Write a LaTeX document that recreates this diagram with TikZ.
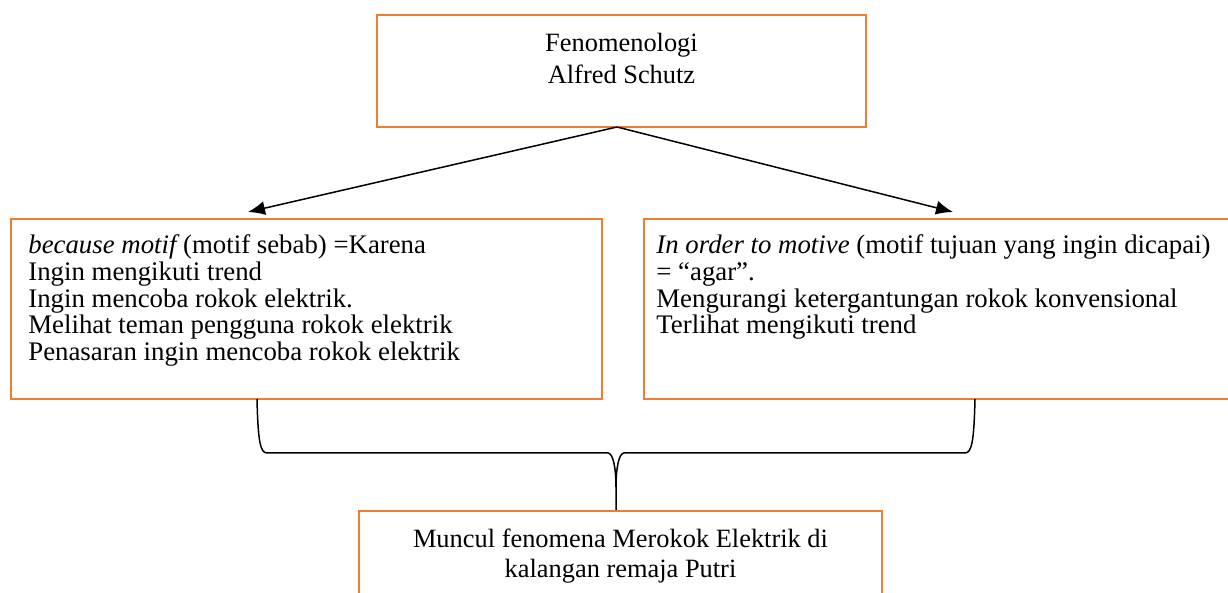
\documentclass[tikz,border=0pt]{standalone}
\usepackage{fontspec}
\setmainfont{Liberation Serif}
\usetikzlibrary{arrows.meta}
\definecolor{orng}{HTML}{ED7D31}
\begin{document}
\begin{tikzpicture}[x=0.5pt,y=-0.5pt,
  box/.style={draw=orng, line width=1pt, inner sep=0pt, rectangle},
  small/.style={font=\fontsize{13.4pt}{13.5pt}\selectfont, inner sep=0pt, anchor=base west},
  big/.style={font=\fontsize{13.2pt}{16pt}\selectfont, inner sep=0pt, anchor=base},
  conn/.style={line width=0.75pt, black},
  arr/.style={conn, -{Latex[length=8.5pt,width=7pt]}}]
\useasboundingbox (0,0) rectangle (1228,593);
\clip (0,0) rectangle (1228,593);
% boxes
\node[box, minimum width=244.5pt, minimum height=56pt] (top) at (621.5,71) {};
\node[box, minimum width=295.5pt, minimum height=90pt] (left) at (306.5,309) {};
\node[box, minimum width=298pt, minimum height=90pt] (right) at (942,309) {};
\node[box, minimum width=261.5pt, minimum height=54.5pt] (bot) at (620.5,565.5) {};
% texts
\node[big] (t1) at (621.5,52) {Fenomenologi};
\node[big] (t2) at (621.5,84) {Alfred Schutz};
\node[small] (l1) at (28,254) {{\itshape because motif} (motif sebab) =Karena};
\node[small] (l2) at (28,281) {Ingin mengikuti trend};
\node[small] (l3) at (28,307.5) {Ingin mencoba rokok elektrik.};
\node[small] (l4) at (28,334) {Melihat teman pengguna rokok elektrik};
\node[small] (l5) at (28,360.5) {Penasaran ingin mencoba rokok elektrik};
\node[small] (r1) at (656,254) {{\itshape In order to motive} (motif tujuan yang ingin dicapai)};
\node[small] (r2) at (656,281) {= “agar”.};
\node[small] (r3) at (656,307.5) {Mengurangi ketergantungan rokok konvensional};
\node[small] (r4) at (656,334) {Terlihat mengikuti trend};
\node[big] (b1) at (620.5,547) {Muncul fenomena Merokok Elektrik di};
\node[big] (b2) at (620.5,578) {kalangan remaja Putri};
% arrows
\coordinate (apex) at (617,127);
\coordinate (ltip) at (248,212);
\coordinate (rtip) at (953,212);
\draw[arr] (apex) -- (ltip);
\draw[arr] (apex) -- (rtip);
% brace
\coordinate (bl) at (257,399);
\coordinate (br) at (975,399);
\coordinate (bm) at (616,487);
\draw[conn] (bl) .. controls (258,440) and (260,453) .. (267,453) -- (608,453)
  .. controls (613,453) and (616,468) .. (bm) -- (bot.north -| bm);
\draw[conn] (br) .. controls (974,440) and (972,453) .. (965,453) -- (624,453)
  .. controls (619,453) and (616,468) .. (bm);
\end{tikzpicture}
\end{document}
